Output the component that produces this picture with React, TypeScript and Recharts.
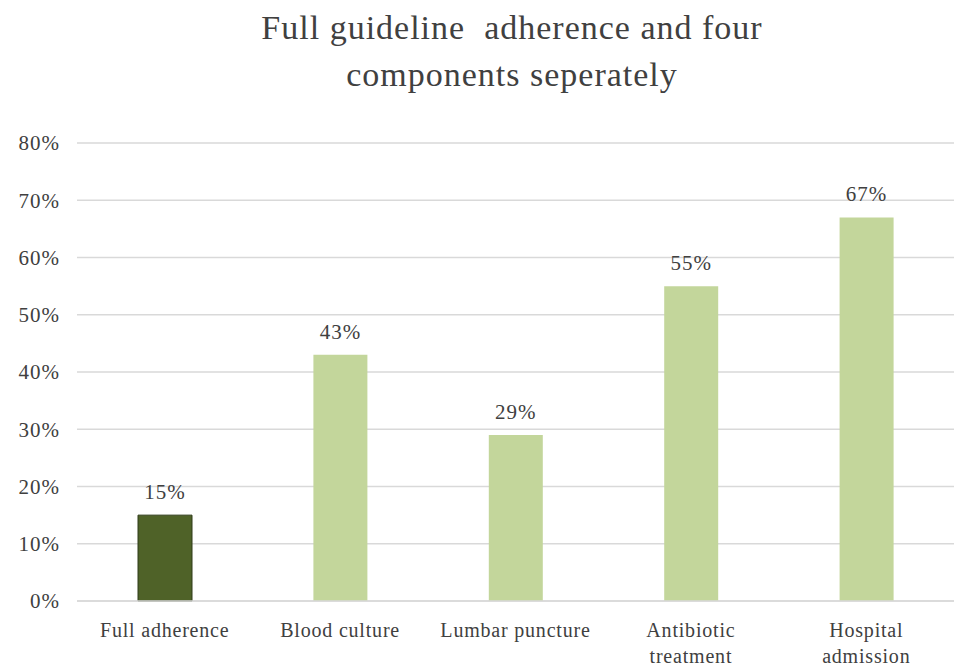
import React from 'react'
import { BarChart, Bar, XAxis, YAxis, CartesianGrid, Cell, LabelList } from 'recharts'

// categories (label lines) and values in percent
const categories = ['Full adherence', 'Blood culture', 'Lumbar puncture', 'Antibiotic\ntreatment', 'Hospital\nadmission']
const values = [15, 43, 29, 55, 67]
const yTicks = [0, 10, 20, 30, 40, 50, 60, 70, 80]
const titleLines = ['Full guideline  adherence and four', 'components seperately']

const data = categories.map((name, i) => ({ name, value: values[i] }))

const font = 'Liberation Serif, DejaVu Serif, Times New Roman, serif'
const textColor = '#404040'

const CategoryTick = (props: any) => {
  const { x, y, payload } = props
  const lines = String(payload.value).split('\n')
  return (
    <g transform={`translate(${x},${y})`}>
      {lines.map((l, i) => (
        <text key={i} x={0} y={i * 26} dy={28} textAnchor="middle" fill={textColor} fontSize={20} letterSpacing={0.8} fontFamily={font}>
          {l}
        </text>
      ))}
    </g>
  )
}

export default function App() {
  return (
    <div style={{ position: 'absolute', left: 0, top: 0, width: 954, height: 668, background: '#fff', fontFamily: font }}>
      <div style={{ position: 'absolute', left: 0, top: 4, width: 1024, textAlign: 'center', fontSize: 34, letterSpacing: 1, lineHeight: '47px', color: textColor }}>
        {titleLines.map((t, i) => (
          <div key={i} style={{ whiteSpace: 'pre' }}>{t}</div>
        ))}
      </div>
      <div style={{ position: 'absolute', left: 0, top: 0 }}>
        <BarChart width={954} height={668} data={data} margin={{ top: 143, right: 0, left: 0, bottom: 37 }} barSize={54}>
          <CartesianGrid vertical={false} stroke="#d9d9d9" strokeWidth={1.5} />
          <XAxis dataKey="name" height={30} axisLine={{ stroke: '#d9d9d9', strokeWidth: 1.5 }} tickLine={false} interval={0} tick={<CategoryTick />} />
          <YAxis
            width={77}
            domain={[0, 80]}
            ticks={yTicks}
            axisLine={false}
            tickLine={false}
            tickSize={0}
            tickMargin={17}
            tickFormatter={(v: number) => `${v}%`}
            tick={{ fill: textColor, fontSize: 21, letterSpacing: 1, fontFamily: font }}
          />
          <Bar dataKey="value" isAnimationActive={false}>
            {data.map((d, i) => (
              <Cell key={i} fill={i === 0 ? '#4f6228' : '#c3d69b'} stroke={i === 0 ? '#2f3b18' : 'none'} strokeWidth={1} />
            ))}
            <LabelList dataKey="value" position="top" offset={16} formatter={(v: any) => `${v}%`} fill={textColor} fontSize={21} letterSpacing={1} fontFamily={font} />
          </Bar>
        </BarChart>
      </div>
    </div>
  )
}
